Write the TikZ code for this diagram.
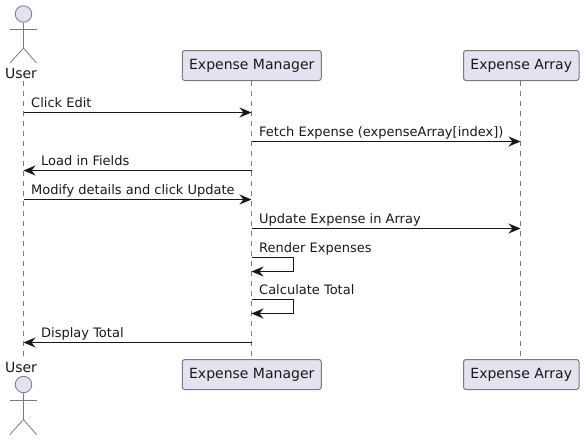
\documentclass[tikz,border=0pt]{standalone}
\usepackage{fontspec}
\setmainfont{DejaVu Sans}
\usetikzlibrary{arrows.meta}
\definecolor{pfill}{HTML}{E2E2F0}
\definecolor{pline}{HTML}{181818}
\definecolor{boxline}{HTML}{7A7A7A}
\newcommand{\boxtext}[1]{\raisebox{-0.9pt}{#1}}
\tikzset{
  partbox/.style={draw=boxline,fill=pfill,rounded corners=2.5pt,line width=1pt,minimum height=30pt,inner sep=0pt,text=black!90,font=\fontsize{14}{14}\selectfont,anchor=center},
  life/.style={draw=boxline,line width=.8pt,dash pattern=on 5pt off 5pt},
  msg/.style={draw=pline,line width=1pt,-{Stealth[length=12pt,width=10pt,inset=4pt]}},
  msglabel/.style={anchor=base west,inner sep=0pt,font=\fontsize{13}{13}\selectfont,text=black!90},
  actorlabel/.style={anchor=base,inner sep=0pt,font=\fontsize{14}{14}\selectfont,text=black!90},
  actorhead/.style={draw=boxline,fill=pfill,line width=.8pt,circle,minimum size=16.5pt,inner sep=0pt},
  actorline/.style={draw=boxline,line width=.8pt},
}
\begin{document}
\begin{tikzpicture}[x=1pt,y=-1pt]
\useasboundingbox (0,0) rectangle (584,440);
% lifeline end points
\coordinate (ut) at (23.5,81); \coordinate (ub) at (23.5,358);
\coordinate (mt) at (251.5,81); \coordinate (mb) at (251.5,359);
\coordinate (at) at (520.5,81); \coordinate (ab) at (520.5,359);
\draw[life] (ut) -- (ub);
\draw[life] (mt) -- (mb);
\draw[life] (at) -- (ab);
% participants
\node[partbox,minimum width=139pt] (emt) at (251.75,65.5) {\boxtext{Expense Manager}};
\node[partbox,minimum width=115.5pt] (eat) at (521.25,65.5) {\boxtext{Expense Array}};
\node[partbox,minimum width=139pt] (emb) at (251.75,374.5) {\boxtext{Expense Manager}};
\node[partbox,minimum width=115.5pt] (eab) at (521.25,374.5) {\boxtext{Expense Array}};
% top actor
\node[actorhead] (headt) at (23.5,14) {};
\coordinate (hipt) at (23.5,48);
\coordinate (armtl) at (10,29); \coordinate (armtr) at (36.5,29);
\coordinate (foottl) at (10,63); \coordinate (foottr) at (36.5,63);
\draw[actorline] (headt) -- (hipt);
\draw[actorline] (armtl) -- (armtr);
\draw[actorline] (foottl) -- (hipt) -- (foottr);
\node[actorlabel] (usert) at (21,78) {User};
% bottom actor
\node[actorhead] (headb) at (23.5,384.5) {};
\coordinate (hipb) at (23.5,419.5);
\coordinate (armbl) at (10,400); \coordinate (armbr) at (36.5,400);
\coordinate (footbl) at (10,434.5); \coordinate (footbr) at (36.5,434.5);
\draw[actorline] (headb) -- (hipb);
\draw[actorline] (armbl) -- (armbr);
\draw[actorline] (footbl) -- (hipb) -- (footbr);
\node[actorlabel] (userb) at (21,372) {User};
% message anchors
\foreach \n/\y in {1/112.5,2/141.5,3/170.5,4/199.5,5/228.5,6/342.5}{
  \coordinate (u\n) at (23.5,\y);
  \coordinate (m\n) at (251.5,\y);
  \coordinate (a\n) at (520.5,\y);
}
\coordinate (s1) at (251.5,257.5); \coordinate (s1r) at (293.5,257.5);
\coordinate (s1q) at (293.5,271.5); \coordinate (s1e) at (251.5,271.5);
\coordinate (s2) at (251.5,299.5); \coordinate (s2r) at (293.5,299.5);
\coordinate (s2q) at (293.5,313.5); \coordinate (s2e) at (251.5,313.5);
% messages
\draw[msg] (u1) -- (m1);
\node[msglabel] (l1) at (31,107) {Click Edit};
\draw[msg] (m2) -- (a2);
\node[msglabel] (l2) at (259,136) {Fetch Expense (expenseArray[index])};
\draw[msg] (m3) -- (u3);
\node[msglabel] (l3) at (41,165) {Load in Fields};
\draw[msg] (u4) -- (m4);
\node[msglabel] (l4) at (31,194) {Modify details and click Update};
\draw[msg] (m5) -- (a5);
\node[msglabel] (l5) at (259,223) {Update Expense in Array};
\draw[msg] (s1) -- (s1r) -- (s1q) -- (s1e);
\node[msglabel] (l6) at (259,252) {Render Expenses};
\draw[msg] (s2) -- (s2r) -- (s2q) -- (s2e);
\node[msglabel] (l7) at (259,294) {Calculate Total};
\draw[msg] (m6) -- (u6);
\node[msglabel] (l8) at (41,337) {Display Total};
\end{tikzpicture}
\end{document}
